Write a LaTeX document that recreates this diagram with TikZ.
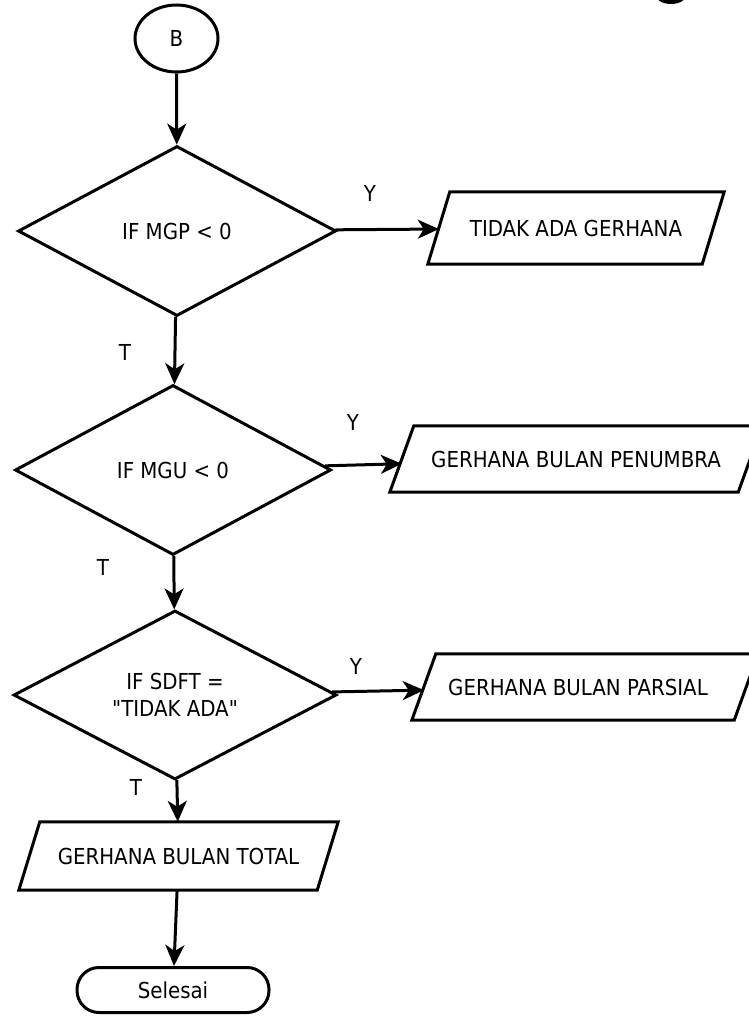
\documentclass[tikz,border=0pt]{standalone}
\usepackage{fontspec}
\newfontfamily\dfont{DejaVu Sans Condensed}
\usetikzlibrary{shapes.geometric,arrows.meta}
\begin{document}
\begin{tikzpicture}[x=1pt,y=-1pt,
  lw/.style={line width=3pt},
  txt/.style={font=\dfont\fontsize{22}{27}\selectfont},
  shp/.style={draw,lw,inner sep=0pt,txt},
  dec/.style={shp,diamond,align=center},
  io/.style={inner sep=0pt,txt},
  conn/.style={lw,-{Stealth[length=21pt,width=19pt,inset=6pt]}},
  lbl/.style={txt,inner sep=0pt}]
\useasboundingbox (0,0) rectangle (748,1016);
\fill[white] (0,0) rectangle (748,1016);
% partial black shape at the top right edge
\fill[black] (671,-6) ellipse [x radius=16, y radius=10];

% nodes
\node[shp,ellipse,minimum width=83pt,minimum height=67pt] (b) at (176.5,38.5) {B};
\node[dec,minimum width=318pt,minimum height=170pt] (d1) at (177,231) {IF MGP < 0};
\node[dec,minimum width=316pt,minimum height=170pt] (d2) at (173,470) {IF MGU < 0};
\node[dec,minimum width=323pt,minimum height=169pt] (d3) at (175,695) {IF SDFT =\\"TIDAK ADA"};

\node[io,minimum width=274pt,minimum height=72pt] (p1) at (576,228) {TIDAK ADA GERHANA};
\node[io,minimum width=348pt,minimum height=66pt] (p2) at (576,459) {GERHANA BULAN PENUMBRA};
\node[io,minimum width=322pt,minimum height=66pt] (p3) at (585,687) {};
\node[io] (p3t) at (578,687) {GERHANA BULAN PARSIAL};
\node[io,minimum width=298pt,minimum height=68pt] (p4) at (178.5,856) {GERHANA BULAN TOTAL};

\node[shp,rounded corners=22pt,minimum width=192pt,minimum height=45pt] (sel) at (173,990) {Selesai};

% parallelogram outlines
\draw[lw] ([xshift=11pt]p1.north west) -- ([xshift=11pt]p1.north east) -- ([xshift=-11pt]p1.south east) -- ([xshift=-11pt]p1.south west) -- cycle;
\draw[lw] ([xshift=12pt]p2.north west) -- ([xshift=12pt]p2.north east) -- ([xshift=-12pt]p2.south east) -- ([xshift=-12pt]p2.south west) -- cycle;
\draw[lw] ([xshift=12pt]p3.north west) -- ([xshift=12pt]p3.north east) -- ([xshift=-12pt]p3.south east) -- ([xshift=-12pt]p3.south west) -- cycle;
\draw[lw] ([xshift=10.5pt]p4.north west) -- ([xshift=10.5pt]p4.north east) -- ([xshift=-10.5pt]p4.south east) -- ([xshift=-10.5pt]p4.south west) -- cycle;

% connectors
\draw[conn] (b) -- (d1);
\draw[conn] (d1) -- (p1);
\draw[conn] (d1) -- (d2);
\draw[conn] (d2) -- (p2);
\draw[conn] (d2) -- (d3);
\draw[conn] (d3) -- (p3);
\draw[conn] (d3) -- (p4);
\draw[conn] (p4) -- (sel);

% branch labels
\node[lbl] (y1) at (370,193) {Y};
\node[lbl] (y2) at (353,422) {Y};
\node[lbl] (y3) at (356,666) {Y};
\node[lbl] (t1) at (125,352) {T};
\node[lbl] (t2) at (103,567) {T};
\node[lbl] (t3) at (136,787) {T};
\end{tikzpicture}
\end{document}
